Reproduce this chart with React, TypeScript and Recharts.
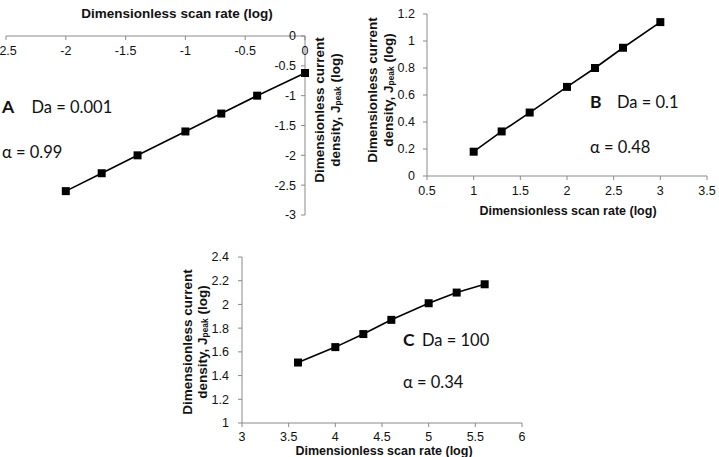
import React from 'react';
import { ScatterChart, Scatter, XAxis, YAxis } from 'recharts';

// Panel A (Da = 0.001)
const aScanRate = [-2, -1.7, -1.4, -1, -0.7, -0.4, 0];
const aCurrent = [-2.6, -2.3, -2.0, -1.6, -1.3, -1.0, -0.62];
const aXTicks = [-2.5, -2, -1.5, -1, -0.5, 0];
const aYTicks = [-3, -2.5, -2, -1.5, -1, -0.5, 0];

// Panel B (Da = 0.1)
const bScanRate = [1, 1.3, 1.6, 2, 2.3, 2.6, 3];
const bCurrent = [0.18, 0.33, 0.47, 0.66, 0.8, 0.95, 1.14];
const bXTicks = [0.5, 1, 1.5, 2, 2.5, 3, 3.5];
const bYTicks = [0, 0.2, 0.4, 0.6, 0.8, 1, 1.2];

// Panel C (Da = 100)
const cScanRate = [3.6, 4, 4.3, 4.6, 5, 5.3, 5.6];
const cCurrent = [1.51, 1.64, 1.75, 1.87, 2.01, 2.1, 2.17];
const cXTicks = [3, 3.5, 4, 4.5, 5, 5.5, 6];
const cYTicks = [1, 1.2, 1.4, 1.6, 1.8, 2, 2.2, 2.4];

const xTitle = 'Dimensionless scan rate (log)';
const yTitleLine1 = 'Dimensionless current';
const yTitleLine2a = 'density, J';
const yTitleSub = 'peak';
const yTitleLine2b = ' (log)';

const panelLabels = ['A', 'B', 'C'];
const daLabels = ['Da = 0.001', 'Da = 0.1', 'Da = 100'];
const alphaLabels = ['\u03b1 = 0.99', '\u03b1 = 0.48', '\u03b1 = 0.34'];

const zip = (xs: number[], ys: number[]) => xs.map((x, i) => ({ x, y: ys[i] }));

const AXIS = '#8a8a8a';
const SANS = '"Liberation Sans", Arial, sans-serif';
const ANNO = 'Lato, "Open Sans", sans-serif';
const tickStyle = { fill: '#111', fontSize: 12.5, fontFamily: SANS };

const YTitle = ({ x1, x2, cy, size }: { x1: number; x2: number; cy: number; size: number }) => (
  <g fontFamily={SANS} fontWeight="bold" fontSize={size} fill="#111">
    <text transform={`translate(${x1},${cy}) rotate(-90)`} textAnchor="middle" dominantBaseline="central">
      {yTitleLine1}
    </text>
    <text transform={`translate(${x2},${cy}) rotate(-90)`} textAnchor="middle" dominantBaseline="central">
      {yTitleLine2a}
      <tspan fontSize={size * 0.62} dy={3}>{yTitleSub}</tspan>
      <tspan dy={-3}>{yTitleLine2b}</tspan>
    </text>
  </g>
);

const Annotation = ({ i, x, daX, y1, y2 }: { i: number; x: number; daX: number; y1: number; y2: number }) => (
  <g fontFamily={ANNO} fontSize={16.5} fill="#111">
    <text x={x} y={y1} fontWeight="bold" fontSize={17.5}>{panelLabels[i]}</text>
    <text x={daX} y={y1}>{daLabels[i]}</text>
    <text x={x} y={y2}>{alphaLabels[i]}</text>
  </g>
);

export default function App() {
  const lineProps = { stroke: '#000', strokeWidth: 1.6 };
  return (
    <div style={{ position: 'absolute', left: 0, top: 0, width: 719, height: 457, background: '#fff', overflow: 'hidden' }}>
      {/* Panel A */}
      <div style={{ position: 'absolute', left: 0, top: 0 }}>
        <ScatterChart width={360} height={230} margin={{ top: 36, right: 55, bottom: 15, left: 6 }}>
          <XAxis
            type="number"
            dataKey="x"
            domain={[-2.5, 0]}
            ticks={aXTicks}
            interval={0}
            orientation="top"
            mirror
            height={30}
            axisLine={{ stroke: AXIS }}
            tickLine={{ stroke: AXIS }}
            tickSize={4}
            tickMargin={6}
            tick={tickStyle}
          />
          <YAxis
            type="number"
            dataKey="y"
            domain={[-3, 0]}
            ticks={aYTicks}
            interval={0}
            orientation="right"
            mirror
            width={40}
            axisLine={{ stroke: AXIS }}
            tickLine={{ stroke: AXIS }}
            tickSize={4}
            tickMargin={5}
            tick={tickStyle}
          />
          <Scatter data={zip(aScanRate, aCurrent)} fill="#000" shape="square" line={lineProps} lineType="joint" isAnimationActive={false} />
        </ScatterChart>
      </div>

      {/* Panel B */}
      <div style={{ position: 'absolute', left: 360, top: 0 }}>
        <ScatterChart width={359} height={230} margin={{ top: 14, right: 12, bottom: 24, left: 27 }}>
          <XAxis
            type="number"
            dataKey="x"
            domain={[0.5, 3.5]}
            ticks={bXTicks}
            interval={0}
            height={30}
            axisLine={{ stroke: AXIS }}
            tickLine={{ stroke: AXIS }}
            tickSize={4}
            tickMargin={6}
            tick={tickStyle}
          />
          <YAxis
            type="number"
            dataKey="y"
            domain={[0, 1.2]}
            ticks={bYTicks}
            interval={0}
            width={40}
            axisLine={{ stroke: AXIS }}
            tickLine={{ stroke: AXIS }}
            tickSize={4}
            tickMargin={8}
            tick={tickStyle}
          />
          <Scatter data={zip(bScanRate, bCurrent)} fill="#000" shape="square" line={lineProps} lineType="joint" isAnimationActive={false} />
        </ScatterChart>
      </div>

      {/* Panel C */}
      <div style={{ position: 'absolute', left: 170, top: 240 }}>
        <ScatterChart width={360} height={217} margin={{ top: 17, right: 8, bottom: 4, left: 32 }}>
          <XAxis
            type="number"
            dataKey="x"
            domain={[3, 6]}
            ticks={cXTicks}
            interval={0}
            height={30}
            axisLine={{ stroke: AXIS }}
            tickLine={{ stroke: AXIS }}
            tickSize={4}
            tickMargin={5}
            tick={tickStyle}
          />
          <YAxis
            type="number"
            dataKey="y"
            domain={[1, 2.4]}
            ticks={cYTicks}
            interval={0}
            width={40}
            axisLine={{ stroke: AXIS }}
            tickLine={{ stroke: AXIS }}
            tickSize={4}
            tickMargin={9}
            tick={tickStyle}
          />
          <Scatter data={zip(cScanRate, cCurrent)} fill="#000" shape="square" line={lineProps} lineType="joint" isAnimationActive={false} />
        </ScatterChart>
      </div>

      {/* Titles and annotations */}
      <svg width={719} height={457} style={{ position: 'absolute', left: 0, top: 0, pointerEvents: 'none' }}>
        <g fontFamily={SANS} fontWeight="bold" fill="#111">
          <text x={177} y={13} fontSize={13.5} textAnchor="middle" dominantBaseline="central">{xTitle}</text>
          <text x={568} y={211} fontSize={12.5} textAnchor="middle" dominantBaseline="central">{xTitle}</text>
          <text x={384} y={451} fontSize={12.5} textAnchor="middle" dominantBaseline="central">{xTitle}</text>
        </g>
        <YTitle x1={319} x2={335} cy={110} size={13.5} />
        <YTitle x1={372} x2={388} cy={90} size={13.5} />
        <YTitle x1={187} x2={202} cy={342} size={13.5} />
        <Annotation i={0} x={2} daX={31.5} y1={113} y2={158} />
        <Annotation i={1} x={590} daX={617} y1={108} y2={153} />
        <Annotation i={2} x={403} daX={422} y1={346} y2={388} />
      </svg>
    </div>
  );
}
